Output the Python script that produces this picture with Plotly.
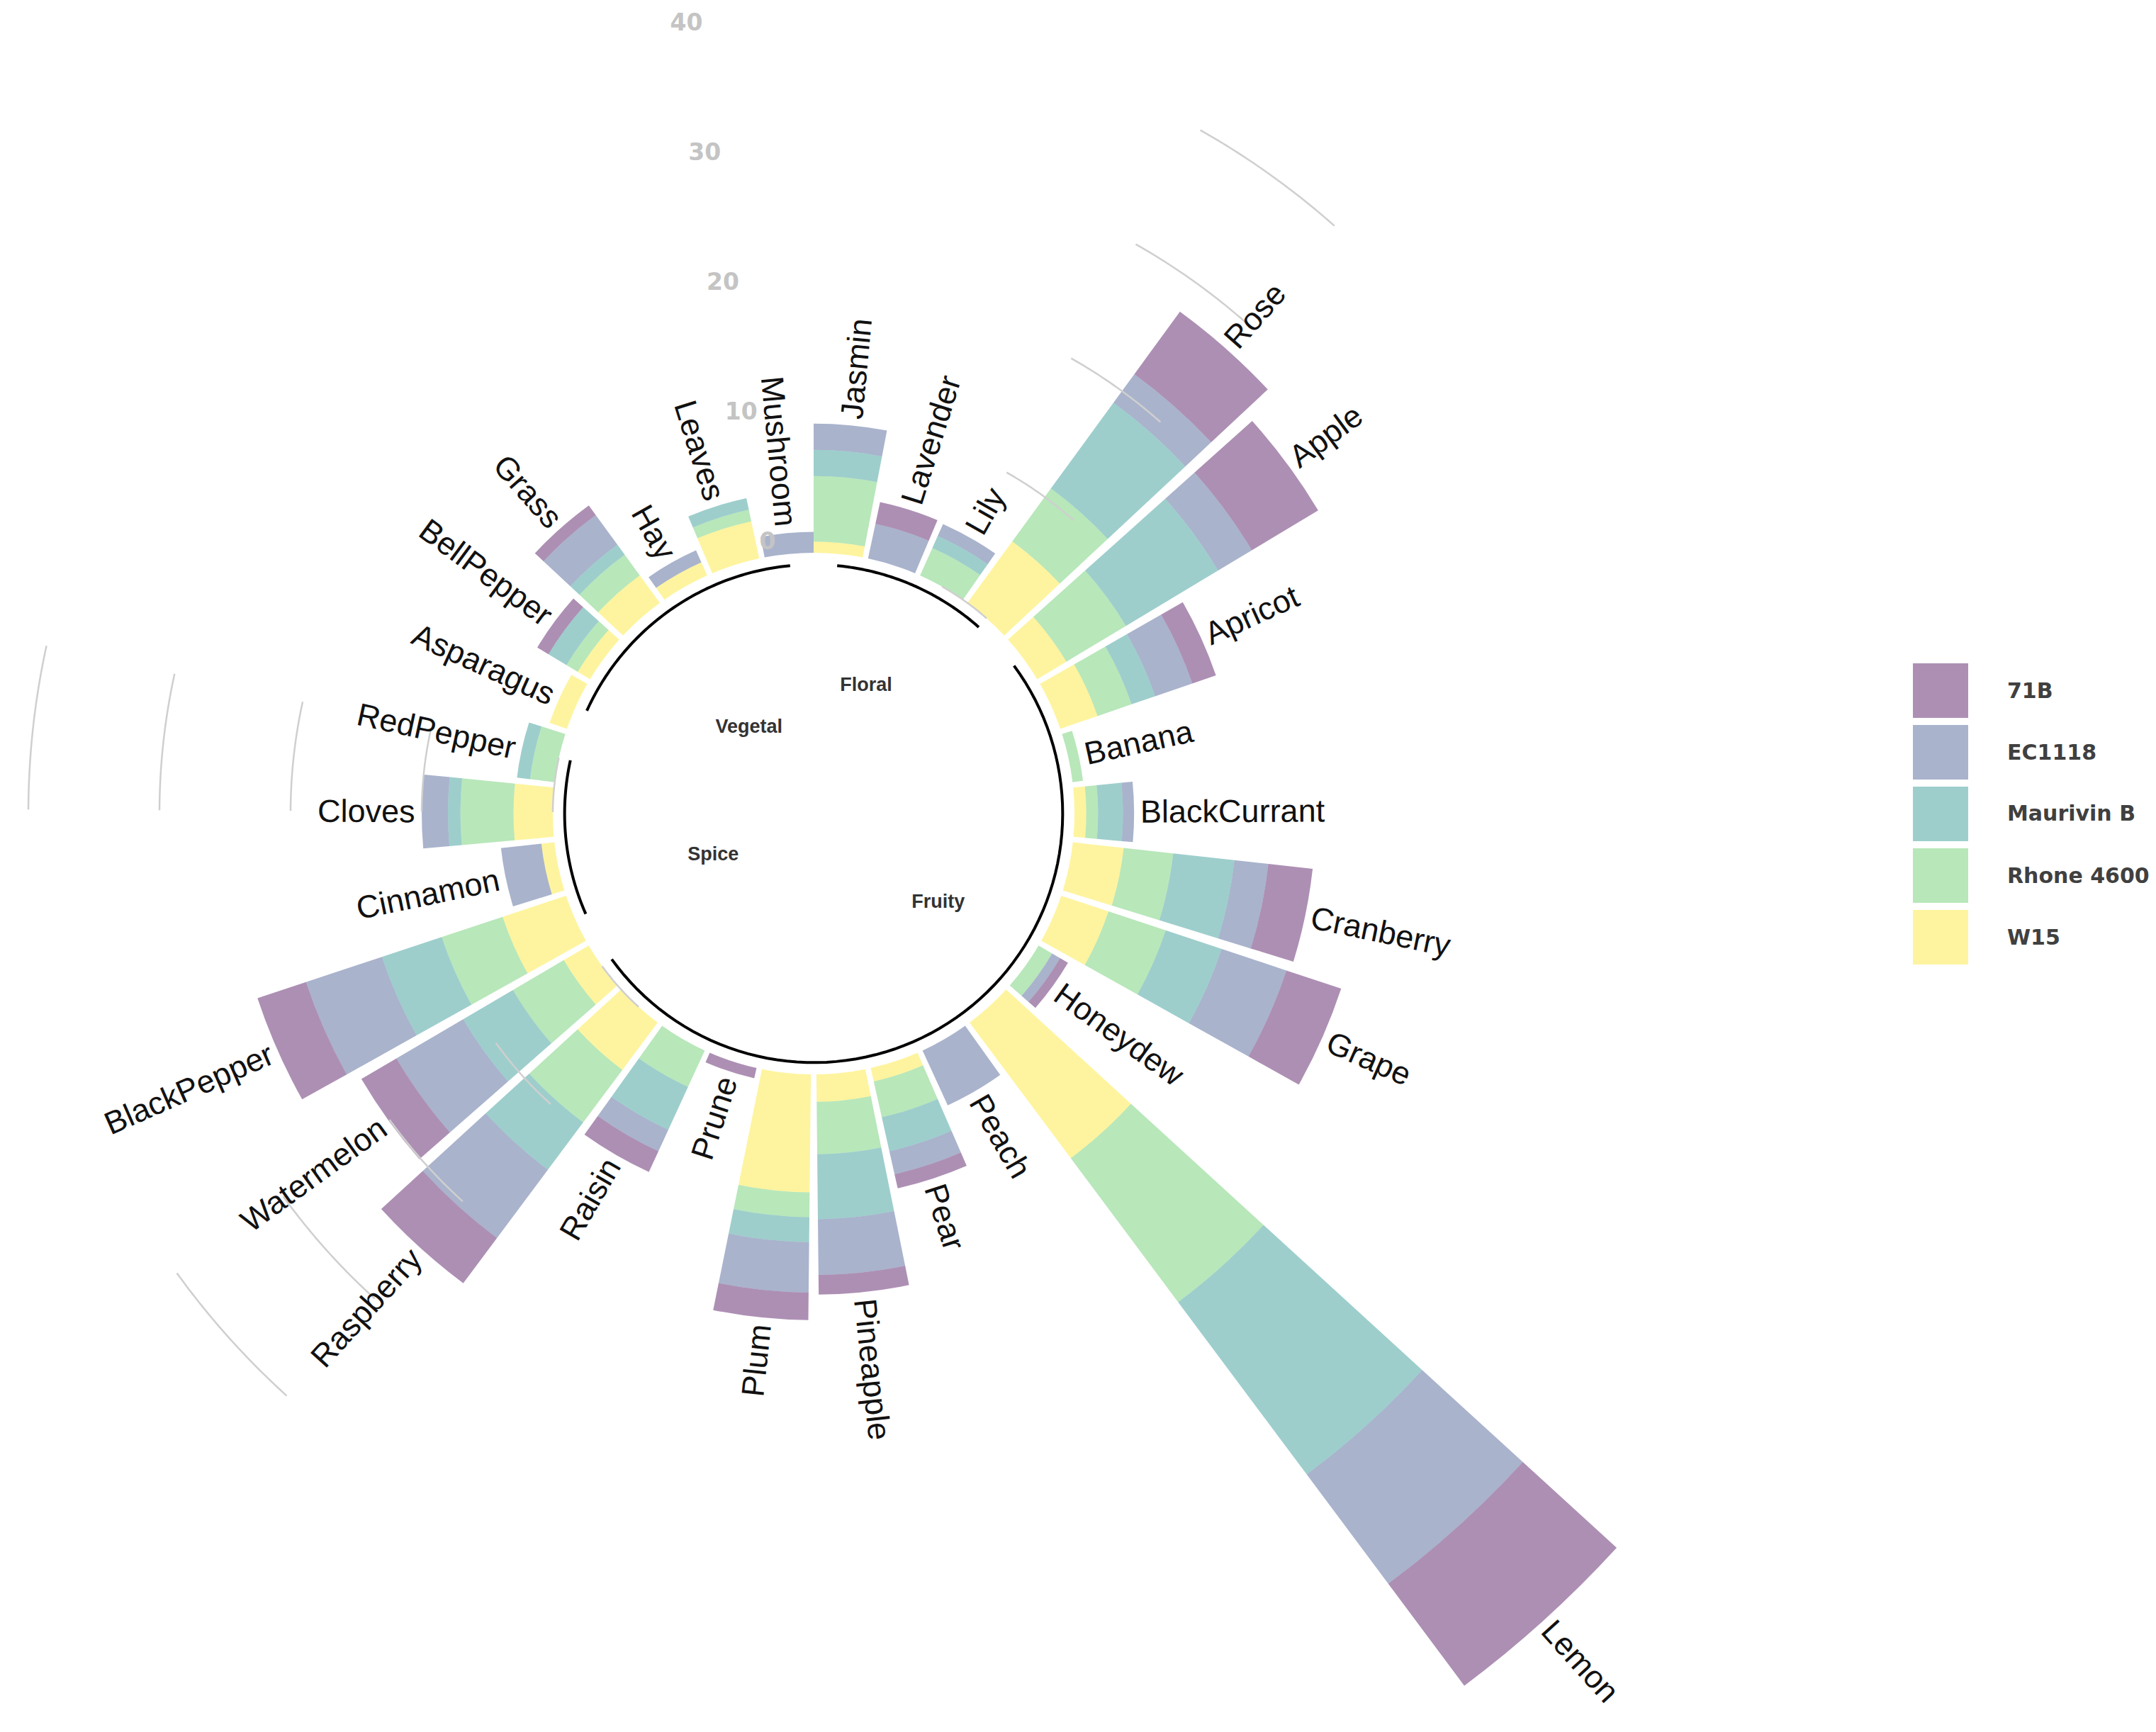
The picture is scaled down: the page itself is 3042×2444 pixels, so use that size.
import numpy as np
import plotly.graph_objects as go

# ---------------- data ----------------
flavours = ["Jasmin", "Lavender", "Lily", "Rose",
            "Apple", "Apricot", "Banana", "BlackCurrant", "Cranberry", "Grape",
            "Honeydew", "Lemon", "Peach", "Pear", "Pineapple", "Plum", "Prune",
            "Raisin", "Raspberry", "Watermelon",
            "BlackPepper", "Cinnamon", "Cloves", "RedPepper",
            "Asparagus", "BellPepper", "Grass", "Hay", "Leaves", "Mushroom"]
groups = ["Floral"] * 4 + ["Fruity"] * 16 + ["Spice"] * 4 + ["Vegetal"] * 6
group_names = ["Floral", "Fruity", "Spice", "Vegetal"]

# stacked from the centre outwards
w15 = [0.85, 0, 0, 5.8, 2.6, 3.0, 0, 0.9, 3.9, 3.8, 0, 12.9, 0, 1.05, 2.1, 9.0, 0,
       0, 4.5, 2.2, 5.1, 1.0, 3.0, 0, 1.4, 1.1, 2.6, 1.1, 2.9, 0]
rhone_4600 = [5.0, 0, 2.3, 5.0, 5.3, 2.75, 0.8, 0.9, 3.8, 4.6, 1.2, 13.7, 0, 2.8, 4.0, 1.9, 0,
              3.05, 5.0, 4.5, 4.9, 0, 4.05, 1.9, 0, 1.0, 1.95, 0, 0.9, 0]
maurivin_b = [2.0, 0, 1.0, 8.1, 8.2, 1.9, 0, 1.9, 4.7, 4.5, 0, 16.4, 0, 2.65, 4.95, 1.9, 0,
              3.6, 4.5, 4.4, 4.8, 0, 0.95, 1.0, 0, 1.6, 0.95, 0, 0.9, 0]
ec1118 = [2.0, 2.7, 1.0, 2.7, 3.0, 3.0, 0, 0.85, 2.6, 5.2, 0.7, 10.4, 4.6, 1.8, 4.25, 3.85, 0,
          1.8, 6.5, 5.9, 6.1, 3.1, 2.0, 0, 0, 0, 2.8, 1.0, 0, 1.6]
b71 = [0, 1.7, 0, 5.9, 5.9, 1.9, 0, 0, 3.4, 4.4, 0.7, 9.7, 0, 1.1, 1.5, 2.1, 0.8,
       1.75, 4.3, 3.1, 3.9, 0, 0, 0, 0, 1.0, 0.9, 0, 0, 0]

strains = ["W15", "Rhone 4600", "Maurivin B", "EC1118", "71B"]
series = [w15, rhone_4600, maurivin_b, ec1118, b71]
colors = ["rgba(253,231,37,0.44)", "rgba(93,200,99,0.44)", "rgba(33,144,140,0.44)",
          "rgba(59,82,139,0.44)", "rgba(68,1,84,0.44)"]

tick_vals = [0, 10, 20, 30, 40]
tick_labels = ["0", "10", "20", "30", "40"]

# ---------------- geometry ----------------
W, H = 3042, 2444
CX, CY = 1140, 1140        # centre of the wheel in pixels
R_PX = 1140                # radius of the main polar domain
PX = 18.5                  # pixels per unit
R0 = 368                   # radius (px) of value 0
r_min = -R0 / PX
r_max = r_min + R_PX / PX

n = len(flavours)
slot = 360 / (n - 0.1)


def theta_of(i):
    return (np.asarray(i, dtype=float) - 0.55) * slot


ids = np.arange(1, n + 1)
theta = theta_of(ids)
bar_w = 0.9 * slot


def to_paper(th, v):
    rp = (v - r_min) * PX
    t = np.radians(th)
    return (CX + rp * np.sin(t)) / W, 1 - (CY - rp * np.cos(t)) / H


arial = dict(A=667, B=667, C=722, G=778, H=722, J=500, L=556, M=833, P=667, R=722, W=944,
             a=556, b=556, c=500, d=556, e=556, g=556, h=556, i=222, k=500, l=222, m=833,
             n=556, o=556, p=556, r=333, s=500, t=278, u=556, v=500, w=722, y=500)


def text_width(s, size):
    return sum(arial.get(ch, 556) for ch in s) / 1000 * size


totals = np.sum(np.array(series, dtype=float), axis=0)
# bars too long for the main circle go to a second, sector-shaped polar with the same centre
far = totals > r_max - 0.01
far_ang = 90 - theta[far]
sector = [far_ang.min() - bar_w / 2 - 1, far_ang.max() + bar_w / 2 + 1]
a0, a1 = np.radians(sector)
sx = max(np.cos(a0), np.cos(a1))
sy = max(-np.sin(a0), -np.sin(a1))
RB = 1600
r_max2 = r_min + RB / PX

fig = go.Figure()

# grid segments between groups (drawn first)
grp = np.array(groups)
for g in group_names[:3]:
    end = ids[grp == g].max()
    t = np.linspace(theta_of(end - 1), theta_of(end), 40)
    for v in tick_vals:
        fig.add_trace(go.Scatterpolar(r=np.full(t.size, v), theta=t, mode="lines",
                                      line=dict(color="#cfcfcf", width=2.5),
                                      hoverinfo="skip", showlegend=False))

# stacked bars
base = np.zeros(n)
for name, vals, col in zip(strains, series, colors):
    vals = np.array(vals, dtype=float)
    for sub, keep in (("polar", ~far), ("polar2", far)):
        fig.add_trace(go.Barpolar(r=np.where(keep, vals, 0), theta=theta, base=base,
                                  width=bar_w, name=name, subplot=sub,
                                  marker=dict(color=col, line=dict(width=0)),
                                  hoverinfo="skip", showlegend=False))
    base = base + vals

# group base arcs
for g in group_names:
    sel = ids[grp == g]
    t = np.linspace(theta_of(sel.min()), theta_of(sel.max()), 80)
    fig.add_trace(go.Scatterpolar(r=np.full(t.size, -0.9), theta=t, mode="lines",
                                  line=dict(color="black", width=4),
                                  hoverinfo="skip", showlegend=False))

# value labels of the scale
fig.add_trace(go.Scatterpolar(r=np.array(tick_vals) + 0.9, theta=np.full(len(tick_vals), 352.0),
                              mode="text", text=tick_labels, textposition="middle left",
                              cliponaxis=False,
                              textfont=dict(family="DejaVu Sans", size=33, color="#c4c4c4",
                                            weight="bold"),
                              hoverinfo="skip", showlegend=False))

# group names in the middle
group_label_pos = {"Floral": (22.4, -9.4), "Fruity": (125.6, -8.2),
                   "Spice": (247.4, -11.6), "Vegetal": (323.0, -11.7)}
fig.add_trace(go.Scatterpolar(r=[group_label_pos[g][1] for g in group_names],
                              theta=[group_label_pos[g][0] for g in group_names],
                              mode="text", text=group_names, cliponaxis=False,
                              textfont=dict(family="Liberation Sans", size=27, color="#333333",
                                            weight="bold"),
                              hoverinfo="skip", showlegend=False))

# flavour labels, rotated along the bars
LABEL_SIZE = 45
for name, th, tot in zip(flavours, theta, totals):
    L = text_width(name, LABEL_SIZE)
    v = tot + 0.5 + (L / 2) / PX
    x, y = to_paper(th, v)
    ang = th - 90 if th < 180 else th - 270
    fig.add_annotation(x=x, y=y, xref="paper", yref="paper", text=name, textangle=ang,
                       showarrow=False, xanchor="center", yanchor="middle",
                       font=dict(family="Liberation Sans", size=LABEL_SIZE, color="#111111"))

# legend drawn as large swatches
for k, (name, col) in enumerate(zip(strains[::-1], colors[::-1])):
    top = 928 + 87 * k
    fig.add_shape(type="rect", xref="paper", yref="paper",
                  x0=2691 / W, x1=2769 / W, y0=1 - (top + 77) / H, y1=1 - top / H,
                  fillcolor=col, line=dict(width=0))
    fig.add_annotation(x=2822 / W, y=1 - (top + 38) / H, xref="paper", yref="paper",
                       text=name, showarrow=False, xanchor="left", yanchor="middle",
                       font=dict(family="DejaVu Sans", size=30, color="#404040",
                                 weight="bold"))

hidden_angular = dict(direction="clockwise", rotation=90, thetaunit="degrees",
                      visible=False, showgrid=False)
fig.update_layout(
    width=W, height=H,
    margin=dict(l=0, r=0, t=0, b=0),
    paper_bgcolor="white", plot_bgcolor="white",
    showlegend=False,
    polar=dict(
        domain=dict(x=[(CX - R_PX) / W, (CX + R_PX) / W],
                    y=[1 - (CY + R_PX) / H, 1 - (CY - R_PX) / H]),
        bgcolor="rgba(0,0,0,0)",
        barmode="overlay",
        radialaxis=dict(range=[r_min, r_max], visible=False, showgrid=False),
        angularaxis=hidden_angular,
    ),
    polar2=dict(
        domain=dict(x=[CX / W, (CX + RB * sx) / W],
                    y=[1 - (CY + RB * sy) / H, 1 - CY / H]),
        sector=sector,
        bgcolor="rgba(0,0,0,0)",
        barmode="overlay",
        radialaxis=dict(range=[r_min, r_max2], visible=False, showgrid=False),
        angularaxis=hidden_angular,
    ),
)

fig.write_html("out.html")
